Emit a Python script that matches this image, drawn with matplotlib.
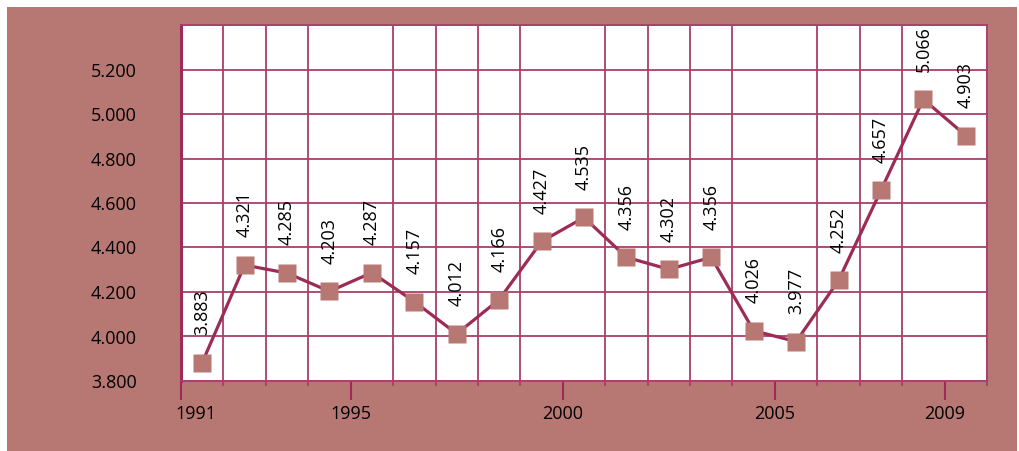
import matplotlib
matplotlib.use("Agg")
import matplotlib.pyplot as plt
from matplotlib.patches import Rectangle

years = list(range(1991, 2010))
values = [3.883, 4.321, 4.285, 4.203, 4.287, 4.157, 4.012, 4.166, 4.427, 4.535,
          4.356, 4.302, 4.356, 4.026, 3.977, 4.252, 4.657, 5.066, 4.903]
labeled_years = [1991, 1995, 2000, 2005, 2009]
y_ticks = [3.8, 4.0, 4.2, 4.4, 4.6, 4.8, 5.0, 5.2]

ROSE = "#b77873"
CRIMSON = "#9c2b55"
GRID = "#a8406a"

plt.rcParams['font.family'] = ['Open Sans', 'DejaVu Sans']

W, H = 1019, 451
fig = plt.figure(figsize=(W / 100, H / 100), dpi=100)
fig.patch.set_facecolor("white")
fig.add_artist(Rectangle((7 / W, 0), 1010 / W, 444 / H, transform=fig.transFigure,
                         facecolor=ROSE, edgecolor="none", zorder=-10))

ax = fig.add_axes([181 / W, (H - 381) / H, 806 / W, 356 / H])
ax.set_facecolor("white")

x = list(range(len(years)))
ax.plot(x, values, color=CRIMSON, lw=2.3, zorder=3)
ax.plot(x, values, linestyle="none", marker="s", markersize=13.5,
        markerfacecolor=ROSE, markeredgecolor="none", zorder=4)

for xi, v in zip(x, values):
    ax.annotate(f"{v:.3f}", xy=(xi, v), xytext=(0, 20), textcoords="offset points",
                rotation=90, ha="center", va="bottom", fontsize=13, color="black",
                zorder=5)

ax.set_xlim(-0.5, len(years) - 0.5)
ax.set_ylim(3.8, 5.4)

# Y axis
ax.set_yticks(y_ticks + [5.4])
ax.set_yticklabels([f"{v:.3f}" for v in y_ticks] + [""])
ax.tick_params(axis="y", length=0, pad=32, labelsize=13, labelcolor="black")
ax.grid(axis="y", color=GRID, lw=1.3)

# X axis
bounds = [i - 0.5 for i in range(len(years) + 1)]
major_b = [years.index(y) - 0.5 for y in labeled_years]
ax.set_xticks(bounds, minor=True)
ax.set_xticks(major_b)
ax.set_xticklabels([])
ax.tick_params(axis="x", which="minor", length=3.3, width=1.3, color=GRID, direction="out")
ax.tick_params(axis="x", which="major", length=13.5, width=1.5, color=CRIMSON, direction="out")
ax.grid(axis="x", which="minor", color=GRID, lw=1.3)
ax.set_axisbelow(True)

for yr, b in zip(labeled_years, major_b):
    dx = 11 if yr == labeled_years[0] else 0
    ax.annotate(str(yr), xy=(b, 0), xycoords=("data", "axes fraction"),
                xytext=(dx, -17), textcoords="offset points",
                ha="center", va="top", fontsize=13, color="black")

for side in ["top", "right", "bottom"]:
    ax.spines[side].set_color(GRID)
    ax.spines[side].set_linewidth(1.3)
ax.spines["left"].set_color(CRIMSON)
ax.spines["left"].set_linewidth(2.2)

fig.savefig("out.png", dpi=100, facecolor=fig.get_facecolor())
